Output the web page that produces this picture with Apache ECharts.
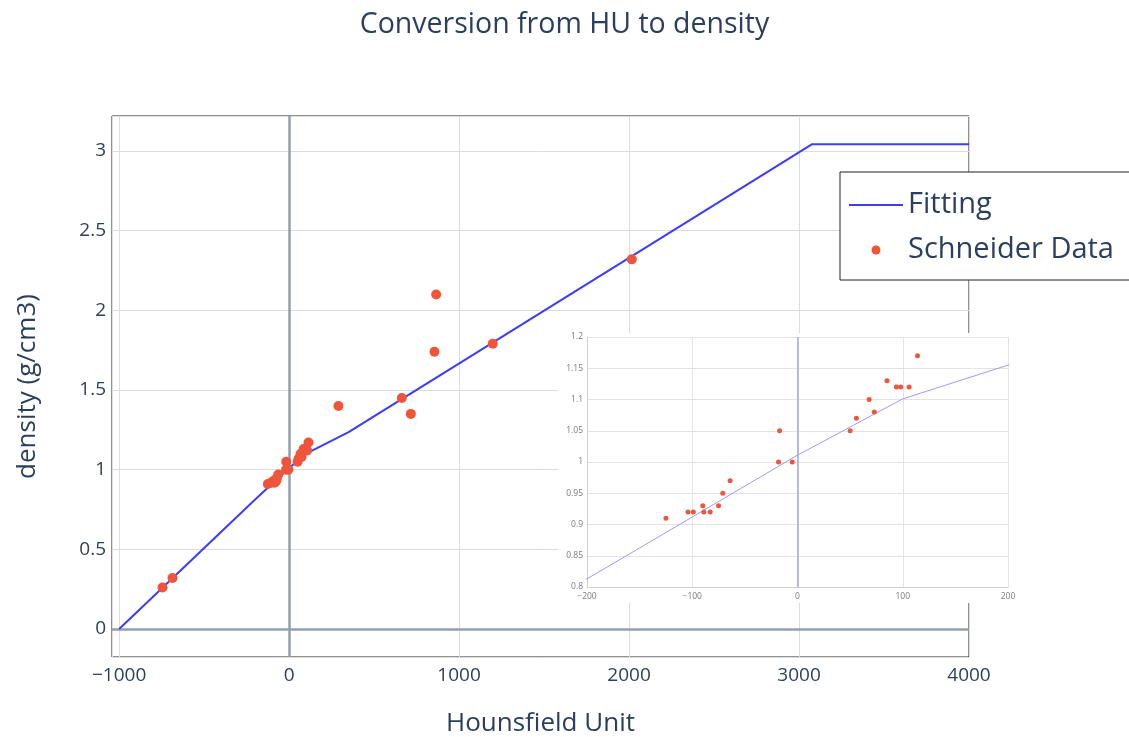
<!DOCTYPE html>
<html>
<head>
<meta charset="utf-8">
<script src="https://cdn.jsdelivr.net/npm/echarts@6/dist/echarts.min.js"></script>
<style>html,body{margin:0;padding:0;background:#fff}#c{width:1129px;height:737px}</style>
</head>
<body>
<div id="c"></div>
<script>
// Fitting curve (piecewise linear HU -> density)
const fitHU = [-1000, -200, 0, 100, 350, 3075, 4000];
const fitDensity = [0, 0.813, 1.011, 1.101, 1.236, 3.042, 3.042];
// Schneider data points
const schneiderHU = [-745, -686, -125, -104, -99, -90, -89, -83, -75, -71, -64, -18, -17, -5, 50, 56, 68, 73, 85, 94, 98, 106, 114, 290, 663, 716, 855, 865, 1198, 2016];
const schneiderDensity = [0.26, 0.32, 0.91, 0.92, 0.92, 0.93, 0.92, 0.92, 0.93, 0.95, 0.97, 1.00, 1.05, 1.00, 1.05, 1.07, 1.10, 1.08, 1.13, 1.12, 1.12, 1.12, 1.17, 1.40, 1.45, 1.35, 1.74, 2.10, 1.79, 2.32];
// Axis settings
const mainXRange = [-1042, 4000];
const mainYRange = [-0.176, 3.22];
const insetXRange = [-200, 200];
const insetYRange = [0.8, 1.2];

const fitData = fitHU.map((x, i) => [x, fitDensity[i]]);
const ptsData = schneiderHU.map((x, i) => [x, schneiderDensity[i]]);

const TXT = '#2a3f5f';
const FONT = '"Open Sans", sans-serif';
const minus = v => String(v).replace('-', '\u2212');

const chart = echarts.init(document.getElementById('c'), null, {renderer: 'canvas'});
chart.setOption({
  animation: false,
  textStyle: {fontFamily: FONT},
  title: {
    text: 'Conversion from HU to density', left: 'center', top: 5,
    textStyle: {fontFamily: FONT, fontSize: 28.5, fontWeight: 'normal', color: TXT}
  },
  legend: {
    data: [{name: 'Fitting', itemStyle: {opacity: 0}}, {name: 'Schneider Data'}],
    orient: 'vertical', left: 840, top: 172,
    padding: [18, 24, 15, 8], itemGap: 15, itemWidth: 54, itemHeight: 9,
    backgroundColor: '#fff', borderColor: '#222', borderWidth: 1,
    textStyle: {fontFamily: FONT, fontSize: 29, color: TXT, lineHeight: 30},
    selectedMode: false
  },
  graphic: [{
    type: 'rect', z: 3, silent: true,
    shape: {x: 558, y: 333, width: 452, height: 270},
    style: {fill: '#fff'}
  }],
  grid: [
    {left: 112, top: 116, width: 857, height: 541, show: true, borderColor: '#222', borderWidth: 1, backgroundColor: 'transparent', containLabel: false, outerBoundsMode: 'none'},
    {left: 587, top: 337, width: 421, height: 250, containLabel: false, outerBoundsMode: 'none'}
  ],
  xAxis: [
    {
      type: 'value', gridIndex: 0, min: mainXRange[0], max: mainXRange[1],
      minInterval: 1000, maxInterval: 1000, splitNumber: 5,
      name: 'Hounsfield Unit', nameLocation: 'middle', nameGap: 54,
      nameTextStyle: {fontFamily: FONT, fontSize: 26, color: TXT},
      axisLine: {show: false}, axisTick: {show: false},
      axisLabel: {fontFamily: FONT, fontSize: 19, color: TXT, margin: 9, showMinLabel: false, showMaxLabel: true, formatter: minus},
      splitLine: {show: true, lineStyle: {color: '#dcdcdc', width: 1}}
    },
    {
      type: 'value', gridIndex: 1, min: insetXRange[0], max: insetXRange[1], interval: 100, z: 5,
      axisLine: {show: true, onZero: false, lineStyle: {color: '#d0d0d0', width: 1}}, axisTick: {show: false},
      axisLabel: {fontFamily: FONT, fontSize: 8.5, color: '#7a7a7a', margin: 5, formatter: minus},
      splitLine: {show: true, lineStyle: {color: '#e3e3e3', width: 1}}
    }
  ],
  yAxis: [
    {
      type: 'value', gridIndex: 0, min: mainYRange[0], max: mainYRange[1],
      minInterval: 0.5, maxInterval: 0.5, splitNumber: 7,
      name: 'density (g/cm3)', nameLocation: 'middle', nameGap: 71, nameRotate: 90,
      nameTextStyle: {fontFamily: FONT, fontSize: 26, color: TXT},
      axisLine: {show: false}, axisTick: {show: false},
      axisLabel: {fontFamily: FONT, fontSize: 19, color: TXT, margin: 6, showMinLabel: false, showMaxLabel: false},
      splitLine: {show: true, lineStyle: {color: '#dcdcdc', width: 1}}
    },
    {
      type: 'value', gridIndex: 1, min: insetYRange[0], max: insetYRange[1], interval: 0.05, z: 5,
      axisLine: {show: true, onZero: false, lineStyle: {color: '#d0d0d0', width: 1}}, axisTick: {show: false},
      axisLabel: {fontFamily: FONT, fontSize: 8.5, color: '#7a7a7a', margin: 4},
      splitLine: {show: true, lineStyle: {color: '#e3e3e3', width: 1}}
    }
  ],
  series: [
    {
      name: 'Fitting', type: 'line', xAxisIndex: 0, yAxisIndex: 0, data: fitData,
      symbol: 'none', z: 2, color: '#3c3cff',
      lineStyle: {color: '#3c3cff', width: 2}
    },
    {
      name: 'Schneider Data', type: 'scatter', xAxisIndex: 0, yAxisIndex: 0, data: ptsData,
      symbol: 'circle', symbolSize: 10, z: 2, color: '#ef553b',
      itemStyle: {color: '#ef553b', opacity: 1},
      markLine: {
        silent: true, symbol: 'none', z: 1, label: {show: false},
        lineStyle: {color: '#939fb0', width: 2.5, type: 'solid'},
        data: [{xAxis: 0}, {yAxis: 0}]
      }
    },
    {
      name: 'inset fit', type: 'line', xAxisIndex: 1, yAxisIndex: 1, data: fitData,
      symbol: 'none', z: 7, clip: true,
      lineStyle: {color: '#9a9aff', width: 1}
    },
    {
      name: 'inset data', type: 'scatter', xAxisIndex: 1, yAxisIndex: 1, data: ptsData,
      symbol: 'circle', symbolSize: 5, z: 8, clip: true,
      itemStyle: {color: '#ef553b', opacity: 1},
      markLine: {
        silent: true, symbol: 'none', z: 6, label: {show: false},
        lineStyle: {color: '#a5adbb', width: 1.5, type: 'solid'},
        data: [{xAxis: 0}]
      }
    }
  ]
});
</script>
</body>
</html>
